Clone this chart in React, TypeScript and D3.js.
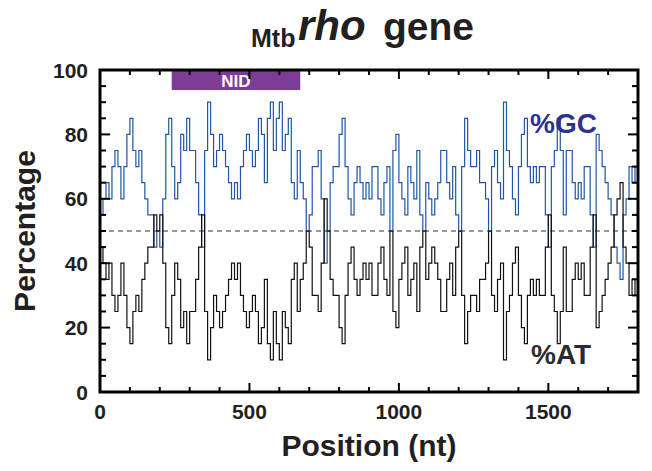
import React from "react";
import * as d3 from "d3";

// GC content (%) along the Mtb rho gene, read every 10 nt (window of 20 nt)
const positionStep = 10;
const gcPercent: number[] = [
  55, 60, 65, 60, 70, 75, 70, 60, 70, 80,
  85, 75, 70, 75, 65, 60, 55, 55, 45, 50,
  45, 60, 80, 85, 70, 60, 65, 80, 75, 85,
  75, 75, 65, 55, 45, 75, 90, 80, 70, 75,
  80, 75, 70, 65, 60, 65, 60, 70, 75, 80,
  75, 70, 75, 85, 80, 65, 85, 90, 75, 85,
  90, 75, 80, 85, 65, 60, 75, 65, 60, 50,
  55, 70, 70, 75, 60, 40, 50, 65, 70, 70,
  80, 85, 70, 60, 55, 65, 70, 65, 60, 65,
  60, 70, 70, 60, 55, 65, 70, 50, 75, 80,
  65, 60, 55, 70, 65, 60, 75, 55, 50, 65,
  60, 55, 60, 65, 75, 75, 65, 60, 70, 55,
  50, 70, 85, 75, 70, 70, 75, 65, 65, 60,
  50, 70, 75, 65, 60, 90, 75, 70, 60, 55,
  70, 80, 85, 70, 65, 70, 65, 70, 70, 55,
  45, 70, 75, 85, 75, 55, 75, 75, 65, 60,
  65, 60, 70, 70, 55, 45, 80, 75, 70, 65,
  60, 55, 45, 40, 35, 55, 60, 70, 65, 70,
];
const positions: number[] = gcPercent.map((_, i) => i * positionStep);
const atPercent: number[] = gcPercent.map((v) => 100 - v);

const xTicksMajor = [0, 500, 1000, 1500];
const xTicksMinor = d3.range(0, 1801, 100);
const yTicksMajor = [0, 20, 40, 60, 80, 100];
const yTicksMinor = d3.range(0, 101, 5);
const nidDomain = [240, 670];
const midline = 50;

const W = 652;
const H = 471;
const M = { left: 100, right: 14, top: 70, bottom: 79 };
const FONT = "'Liberation Sans', Arial, Helvetica, sans-serif";

export default function App() {
  const x = d3.scaleLinear().domain([0, 1800]).range([M.left, W - M.right]);
  const y = d3.scaleLinear().domain([0, 100]).range([H - M.bottom, M.top]);
  const x0 = x.range()[0], x1 = x.range()[1];
  const y0 = y.range()[0], y1 = y.range()[1];

  const posExt = positions.concat([1800]);
  const lineExt = d3
    .line<number>()
    .x((_, i) => x(posExt[i]))
    .y((d) => y(d))
    .curve(d3.curveStepAfter);
  const gcD = lineExt(gcPercent.concat([gcPercent[gcPercent.length - 1]])) || "";
  const atD = lineExt(atPercent.concat([atPercent[atPercent.length - 1]])) || "";

  const textColor = "#231f20";

  return (
    <svg
      width={W}
      height={H}
      style={{ position: "absolute", left: 0, top: 0, background: "#fff" }}
      fontFamily={FONT}
    >
      <defs>
        <clipPath id="plotclip">
          <rect x={x0} y={y1} width={x1 - x0} height={y0 - y1} />
        </clipPath>
      </defs>

      {/* Title */}
      <g fill={textColor} fontWeight="bold">
        <text x={251} y={47} fontSize={25}>Mtb</text>
        <text x={298} y={40} fontSize={42} fontStyle="italic">rho</text>
        <text x={383} y={40} fontSize={39}>gene</text>
      </g>

      {/* Data lines */}
      <g clipPath="url(#plotclip)">
        <line
          x1={x0}
          x2={x1}
          y1={y(midline)}
          y2={y(midline)}
          stroke="#333"
          strokeWidth={1}
          strokeDasharray="5,4"
        />
        <path d={gcD} fill="none" stroke="#1f56a8" strokeWidth={1.2} />
        <path d={atD} fill="none" stroke="#111" strokeWidth={1.2} />
      </g>

      {/* NID bar */}
      <rect
        x={x(nidDomain[0])}
        y={y1}
        width={x(nidDomain[1]) - x(nidDomain[0])}
        height={20}
        fill="#7d3c98"
      />
      <text
        x={(x(nidDomain[0]) + x(nidDomain[1])) / 2}
        y={y1 + 16.5}
        textAnchor="middle"
        fill="#fff"
        fontWeight="bold"
        fontSize={17}
      >
        NID
      </text>

      {/* Ticks (inward on all four sides) */}
      <g stroke="#000" strokeWidth={2}>
        {xTicksMinor.map((t) => {
          const major = xTicksMajor.includes(t);
          const len = major ? 9 : 5;
          return (
            <g key={"xt" + t}>
              <line x1={x(t)} x2={x(t)} y1={y0} y2={y0 - len} />
              <line x1={x(t)} x2={x(t)} y1={y1} y2={y1 + len} />
            </g>
          );
        })}
        {yTicksMinor.map((t) => {
          const major = yTicksMajor.includes(t);
          const len = major ? 10 : 6;
          return (
            <g key={"yt" + t}>
              <line x1={x0} x2={x0 + len} y1={y(t)} y2={y(t)} />
              <line x1={x1} x2={x1 - len} y1={y(t)} y2={y(t)} />
            </g>
          );
        })}
      </g>

      {/* Frame */}
      <rect
        x={x0}
        y={y1}
        width={x1 - x0}
        height={y0 - y1}
        fill="none"
        stroke="#000"
        strokeWidth={3}
      />

      {/* Tick labels */}
      <g fill={textColor} fontWeight="bold" fontSize={21}>
        {xTicksMajor.map((t) => (
          <text key={"xl" + t} x={x(t)} y={y0 + 27} textAnchor="middle">
            {t}
          </text>
        ))}
        {yTicksMajor.map((t) => (
          <text key={"yl" + t} x={x0 - 12} y={y(t) + 7.5} textAnchor="end">
            {t}
          </text>
        ))}
      </g>

      {/* Axis titles */}
      <text
        x={(x0 + x1) / 2}
        y={456}
        textAnchor="middle"
        fill={textColor}
        fontWeight="bold"
        fontSize={30}
      >
        Position (nt)
      </text>
      <text
        transform={`translate(35,${(y0 + y1) / 2}) rotate(-90)`}
        textAnchor="middle"
        fill={textColor}
        fontWeight="bold"
        fontSize={30}
      >
        Percentage
      </text>

      {/* Series labels */}
      <text x={530} y={133} fill="#2e3192" fontWeight="bold" fontSize={28}>
        %GC
      </text>
      <text x={531} y={364} fill="#2b2b2b" fontWeight="bold" fontSize={28}>
        %AT
      </text>
    </svg>
  );
}
